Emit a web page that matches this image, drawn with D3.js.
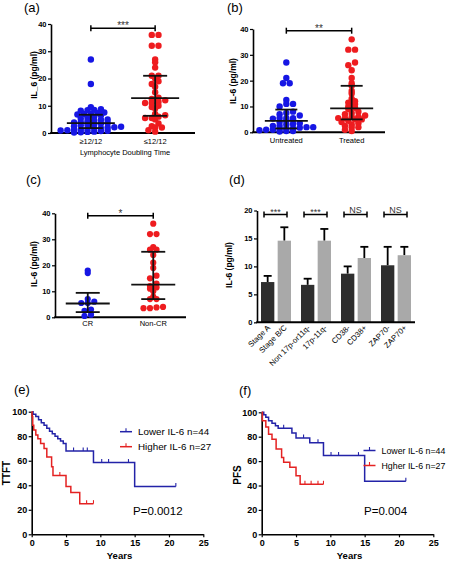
<!DOCTYPE html>
<html><head><meta charset="utf-8">
<script src="https://cdn.jsdelivr.net/npm/d3@7"></script>
<style>body{margin:0;background:#fff}svg{display:block;background:#fff}</style>
</head><body><svg id="chart" width="451" height="563"></svg>
<script>
// ---------------- DATA ----------------
// (a) Lymphocyte doubling time
const aCats = ["≥12/12", "≤12/12"];
const aBlue = [27,18,9.5,8.7,8.5,8.4,8.2,7.5,7.3,7.1,7.0,6.8,6.5,6.0,5.6,5.3,5.0,4.9,4.5,4.3,4.0,3.9,3.7,3.5,3.2,3.0,2.8,2.5,2.3,2.1,2.0,1.8,1.7,1.5,1.3,1.2,1.0,0.9,0.8,0.7,0.5,0.4,0.3,0.2];
const aRed = [36,36,32,32,27,26,24,21,21,20,19,18,17,15,13,12.5,12,11.5,11,11,10,9.5,9,7,6.5,6,5.5,5.5,5,3.5,2.5,2,2,1,0.5];
const aBlueStats = [1.8, 3.6, 6.7];   // q1, median, q3
const aRedStats = [6.3, 12.8, 21];
// (b) Treatment
const bCats = ["Untreated", "Treated"];
const bBlue = [27,21,19,19,12.5,11,11,10,8,7.5,7,6.5,5.5,5.5,5.5,5.3,5,4.5,4,3.5,3.2,3,2.5,2.5,2,2,1.8,1.5,1.5,1.3,1,1,0.8,0.5,0.5,0.3];
const bRed = [36,32,32,27,26,24,21,19,18,16,15,13,12,11.5,11,10,9.5,9,8,7.5,7,6.5,6,6,5.5,5.5,5,5,4.5,4,3.5,3,2.5,2,2,1,0.5];
const bBlueStats = [1.5, 4.4, 8.8];
const bRedStats = [5.0, 9.3, 18];
// (c) Response
const cCats = ["CR", "Non-CR"];
const cBlue = [18,17,7,6,5.5,5.5,3,2.5,1,0.5];
const cRed = [36,32,32,27,26,26,24,21,19,16,15,13,12,11.5,11,10,8,7,7,4,3.5,3.5,3.8];
const cBlueStats = [2.0, 5.3, 9.4];
const cRedStats = [7.0, 12.6, 25.2];
const scatterTicks = [0,10,20,30,40];
// (d) bar chart
const dCats = ["Stage A","Stage B/C","Non 17p-or11q-","17p-11q-","CD38-","CD38+","ZAP70-","ZAP70+"];
const dMeans = [7.2,14.6,6.7,14.6,8.7,11.5,10.2,12.0];
const dErrTop = [8.3,17.0,7.8,16.7,10.0,13.5,13.5,13.5];
const dSig = ["***","***","NS","NS"];
const dTicks = [0,5,10,15,20];
// (e) TTFT Kaplan-Meier
const eLowT = [0.2,0.6,1.0,1.4,1.8,2.2,2.6,3.0,3.4,3.8,4.2,4.6,5.0,9.0,15.0];
const eLowS = [98,96,93.5,91,89,86.5,84,82,80,78,76,74,68,58.5,39];
const eLowCens = [6.1,7.5,8.1,10.2,11.2,14.1,21];
const eLowEnd = 21;
const eHighT = [0.05,0.15,0.3,0.6,0.9,1.3,1.8,2.2,2.9,3.1,5.0,5.7,7.0];
const eHighS = [96,89,85,81,78,74,70,63,55,48,39,34,25];
const eHighCens = [4.1,8.0,9.0];
const eHighEnd = 9;
// (f) PFS Kaplan-Meier
const fLowT = [0.3,0.6,1.0,1.5,2.0,2.4,4.4,5.0,7.0,9.0,15.0];
const fLowS = [98,96,93,91,89,87,83,79,75,64.5,43.5];
const fLowCens = [3.2,6.1,8.2,10.1,11.2,14.1,21];
const fLowEnd = 21;
const fHighT = [0.1,0.6,1.0,1.5,2.1,2.9,3.2,4.1,5.0,5.6];
const fHighS = [93,88,82,78,70,63,59,55,48,41];
const fHighCens = [6.3,7.2,8.2,9.0];
const fHighEnd = 9;
const kmXTicks = [0,5,10,15,20,25];
const kmYTicks = [0,20,40,60,80,100];

// ---------------- DRAWING ----------------
const FONT = '"Liberation Sans", Arial, Helvetica, sans-serif';
const svg = d3.select('#chart').attr('font-family', FONT);
const DOT_BLUE = '#1616e4', DOT_RED = '#ee1c1f';
const KM_BLUE = '#2323a8', KM_RED = '#e42222';

function txt(t, x, y, fs, opts = {}) {
  const e = svg.append('text').attr('x', x).attr('y', y).attr('font-size', fs).attr('fill', opts.fill || '#000').text(t);
  if (opts.anchor) e.attr('text-anchor', opts.anchor);
  if (opts.bold) e.attr('font-weight', 'bold');
  if (opts.rot !== undefined) e.attr('transform', `rotate(${opts.rot},${x},${y})`);
  return e;
}
function ln(g, x1, y1, x2, y2, w, c) {
  return g.append('line').attr('x1', x1).attr('y1', y1).attr('x2', x2).attr('y2', y2)
    .attr('stroke', c || '#000').attr('stroke-width', w);
}
function styleAxis(g, fs, bold) {
  g.attr('font-family', FONT);
  g.select('.domain').attr('stroke', '#000').attr('stroke-width', 1.6);
  g.selectAll('.tick line').attr('stroke', '#000').attr('stroke-width', 1.2);
  g.selectAll('.tick text').attr('font-size', fs).attr('fill', '#000').attr('font-weight', bold ? 'bold' : 'normal');
}
// Prism-like row scatter: points binned into (partly overlapping) horizontal rows, spread side by side
function rowScatter(vals, y, r) {
  const binH = 2 * r * 0.6, step = 2 * r * 1.05;
  const bins = d3.group(vals.map(v => ({ v, y: y(v) })), d => Math.floor(d.y / binH));
  const out = [];
  bins.forEach((arr, key) => {
    arr.sort((a, b) => a.v - b.v);
    const n = arr.length;
    const shift = (key % 2 === 0 && n % 2 === 1) ? 0 : 0;
    arr.forEach((d, j) => out.push({ v: d.v, y: d.y, dx: (j - (n - 1) / 2) * step + shift }));
  });
  return out;
}

function scatterPanel(o) {
  const g = svg.append('g');
  const x = d3.scalePoint().domain(o.cats).range([o.x0, o.x1]).padding(o.pad);
  const y = d3.scaleLinear().domain([0, 40]).range([o.yb, o.yt]);
  const ya = g.append('g').attr('transform', `translate(${o.x0},0)`)
    .call(d3.axisLeft(y).tickValues(scatterTicks).tickSize(3).tickPadding(1.5).tickSizeOuter(0));
  styleAxis(ya, 7.5, true);
  ln(g, o.x0 - 0.8, o.yb, o.x1, o.yb, 2);
  o.groups.forEach((grp, i) => {
    const cx = x(o.cats[i]);
    rowScatter(grp.vals, y, o.r).forEach(p => g.append('circle').attr('cx', cx + p.dx).attr('cy', p.y).attr('r', o.r).attr('fill', grp.color));
  });
  o.groups.forEach((grp, i) => {
    const cx = x(o.cats[i]);
    const [q1, md, q3] = grp.stats;
    ln(g, cx, y(q1), cx, y(q3), 1.8, '#111');
    ln(g, cx - o.mw, y(md), cx + o.mw, y(md), 1.8, '#111');
    ln(g, cx - o.qw, y(q1), cx + o.qw, y(q1), 1.8, '#111');
    ln(g, cx - o.qw, y(q3), cx + o.qw, y(q3), 1.8, '#111');
    txt(o.cats[i], cx, o.catY, 7.5, { anchor: 'middle' });
  });
  const s0 = x(o.cats[0]), s1 = x(o.cats[1]);
  ln(g, s0, o.sigY, s1, o.sigY, 1.5);
  ln(g, s0, o.sigY - 3, s0, o.sigY + 3, 1.5);
  ln(g, s1, o.sigY - 3, s1, o.sigY + 3, 1.5);
  txt(o.sig, (s0 + s1) / 2, o.sigY + 1, 10, { anchor: 'middle', fill: '#333' });
  txt(o.ylab, o.ylx, o.yly, 8.5, { anchor: 'middle', bold: true, rot: -90 });
  if (o.xtitle) txt(o.xtitle, (o.x0 + o.x1) / 2 + 2, o.xtY, 7.5, { anchor: 'middle' });
}

txt('(a)', 24, 12, 13);
scatterPanel({ cats: aCats, x0: 51, x1: 195, pad: 0.62, yb: 133, yt: 24, r: 3.2, mw: 24, qw: 12,
  groups: [{ vals: aBlue, stats: aBlueStats, color: DOT_BLUE }, { vals: aRed, stats: aRedStats, color: DOT_RED }],
  catY: 144, sig: '***', sigY: 28.3, ylab: 'IL_6 (pg/ml)', ylx: 37, yly: 75, xtitle: 'Lymphocyte Doubling Time', xtY: 155 });

txt('(b)', 227, 12, 13);
scatterPanel({ cats: bCats, x0: 253, x1: 385, pad: 0.51, yb: 132.3, yt: 29, r: 3.2, mw: 21.5, qw: 11,
  groups: [{ vals: bBlue, stats: bBlueStats, color: DOT_BLUE }, { vals: bRed, stats: bRedStats, color: DOT_RED }],
  catY: 143, sig: '**', sigY: 30.7, ylab: 'IL-6 (pg/ml)', ylx: 236, yly: 81 });

txt('(c)', 26, 184, 13);
scatterPanel({ cats: cCats, x0: 55, x1: 186, pad: 0.5, yb: 317.3, yt: 213.3, r: 3.1, mw: 22, qw: 12,
  groups: [{ vals: cBlue, stats: cBlueStats, color: DOT_BLUE }, { vals: cRed, stats: cRedStats, color: DOT_RED }],
  catY: 326, sig: '*', sigY: 215.7, ylab: 'IL-6 (pg/ml)', ylx: 37, yly: 264 });

// (d) bar chart
txt('(d)', 229, 184, 13);
(function () {
  const g = svg.append('g');
  const X0 = 257, X1 = 415, YB = 322.3, YT = 210.5;
  const y = d3.scaleLinear().domain([0, 20]).range([YB, YT]);
  const xg = d3.scaleBand().domain(d3.range(4)).range([X0, X1]).paddingInner(0.25).paddingOuter(0.1);
  const xi = d3.scaleBand().domain([0, 1]).range([0, xg.bandwidth()]).paddingInner(0.2);
  const bx = i => xg(Math.floor(i / 2)) + xi(i % 2);
  const bw = xi.bandwidth();
  dMeans.forEach((m, i) => {
    const cx = bx(i) + bw / 2;
    ln(g, cx, y(m), cx, y(dErrTop[i]), 1.8);
    ln(g, cx - 4, y(dErrTop[i]), cx + 4, y(dErrTop[i]), 1.8);
    g.append('rect').attr('x', bx(i)).attr('y', y(m)).attr('width', bw).attr('height', YB - y(m))
      .attr('fill', i % 2 === 0 ? '#2e2e2e' : '#a9a9a9');
  });
  const ya = g.append('g').attr('transform', `translate(${X0},0)`)
    .call(d3.axisLeft(y).tickValues(dTicks).tickSize(3).tickPadding(1.5).tickSizeOuter(0));
  styleAxis(ya, 7.5, true);
  ln(g, X0 - 0.8, YB, X1, YB, 2);
  dCats.forEach((c, i) => {
    const cx = bx(i) + bw / 2 + 3;
    txt(c, cx, YB + 6, 7.8, { anchor: 'end', rot: -45 });
  });
  dSig.forEach((s, k) => {
    const a = bx(2 * k) + 3, b = bx(2 * k + 1) + bw - 4;
    const sy = 214.5;
    ln(g, a, sy, b, sy, 1.5);
    ln(g, a, sy - 3, a, sy + 3, 1.5);
    ln(g, b, sy - 3, b, sy + 3, 1.5);
    txt(s, (a + b) / 2, s === 'NS' ? 212.5 : 215, 9, { anchor: 'middle', fill: '#333' });
  });
  txt('IL-6 (pg/ml)', 232, 265, 8.5, { anchor: 'middle', bold: true, rot: -90 });
})();

function kmPanel(o) {
  const g = svg.append('g');
  const x = d3.scaleLinear().domain([0, 25]).range([o.x0, o.x1]);
  const y = d3.scaleLinear().domain([0, 100]).range([o.yb, o.yt]);
  const xa = g.append('g').attr('transform', `translate(0,${o.yb})`)
    .call(d3.axisBottom(x).tickValues(kmXTicks).tickSize(3).tickPadding(2.5).tickSizeOuter(0));
  styleAxis(xa, 9, true);
  const ya = g.append('g').attr('transform', `translate(${o.x0},0)`)
    .call(d3.axisLeft(y).tickValues(kmYTicks).tickSize(3).tickPadding(1.5).tickSizeOuter(0));
  styleAxis(ya, 9, true);
  const line = d3.line().x(d => x(d[0])).y(d => y(d[1])).curve(d3.curveStepAfter);
  o.series.forEach(s => {
    const pts = [[0, 100]].concat(s.T.map((t, i) => [t, s.S[i]])).concat([[s.end, s.S[s.S.length - 1]]]);
    g.append('path').attr('d', line(pts)).attr('fill', 'none').attr('stroke', s.color).attr('stroke-width', 1.5);
    s.cens.forEach(t => {
      let v = 100; s.T.forEach((tt, i) => { if (tt <= t) v = s.S[i]; });
      ln(g, x(t), y(v) - 3.5, x(t), y(v), 1.1, s.color);
    });
  });
  o.series.forEach((s, k) => {
    const ly = o.legY + k * 15;
    ln(g, o.legX, ly, o.legX + 12, ly, 1.5, s.color);
    ln(g, o.legX + 6, ly - 3.5, o.legX + 6, ly, 1.1, s.color);
    txt(s.label, o.legX + 18, ly + 3.4, o.legFs);
  });
  txt(o.p, o.pX, 515, 11.5);
  txt('Years', (o.x0 + o.x1) / 2 + 2, 559, 9.5, { anchor: 'middle', bold: true });
  txt(o.ylab, o.ylx, o.yly, 10, { anchor: 'middle', bold: true, rot: -90 });
}

txt('(e)', 14, 394, 13);
kmPanel({ x0: 31.7, x1: 203.3, yb: 534.3, yt: 411.7, legX: 120, legY: 431.7, pX: 133, p: 'P=0.0012',
  ylab: 'TTFT', ylx: 10, yly: 473, legFs: 9.8,
  series: [
    { T: eLowT, S: eLowS, cens: eLowCens, end: eLowEnd, color: KM_BLUE, label: 'Lower  IL-6 n=44' },
    { T: eHighT, S: eHighS, cens: eHighCens, end: eHighEnd, color: KM_RED, label: 'Higher IL-6 n=27' }] });

txt('(f)', 239, 395, 13);
kmPanel({ x0: 261.7, x1: 433.3, yb: 534.3, yt: 412.3, legX: 363.5, legY: 450.5, pX: 364, p: 'P=0.004',
  ylab: 'PFS', ylx: 241, yly: 475, legFs: 8.8,
  series: [
    { T: fLowT, S: fLowS, cens: fLowCens, end: fLowEnd, color: KM_BLUE, label: 'Lower IL-6 n=44' },
    { T: fHighT, S: fHighS, cens: fHighCens, end: fHighEnd, color: KM_RED, label: 'Hgher IL-6 n=27' }] });
</script>
</body></html>
